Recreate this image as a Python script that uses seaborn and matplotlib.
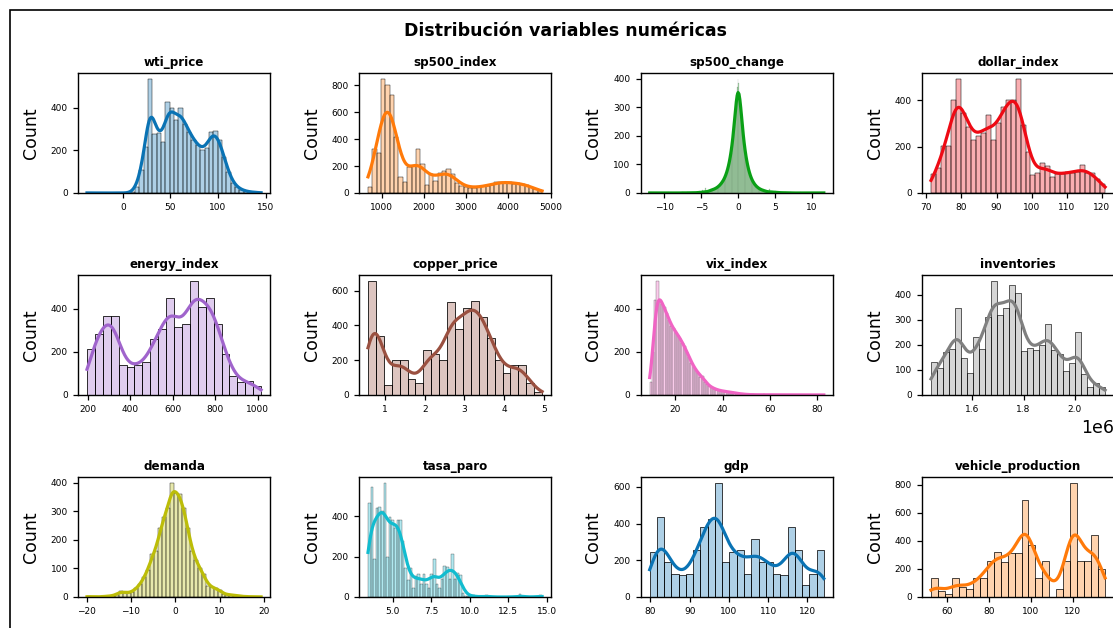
import numpy as np
import matplotlib
matplotlib.use("Agg")
import matplotlib.pyplot as plt
from matplotlib.ticker import MaxNLocator
from matplotlib.patches import Rectangle
from matplotlib.transforms import IdentityTransform
import seaborn as sns

# ---------------- data (histogram counts) ----------------
titles = ["wti_price", "sp500_index", "sp500_change", "dollar_index",
          "energy_index", "copper_price", "vix_index", "inventories",
          "demanda", "tasa_paro", "gdp", "vehicle_production"]

colors = ["#0a73b4", "#ff7a0a", "#0aa016", "#ee0a14",
          "#a064cc", "#9a5040", "#f064c4", "#808080",
          "#bcbd08", "#12bccf", "#0a73b4", "#ff7a0a"]

wti_price_range = (-37.63, 145.31)
wti_price_counts = [1, 0, 0, 0, 0, 0, 0, 0, 0, 0,
                    3, 30, 110, 215, 535, 278, 279, 239, 427, 396,
                    340, 396, 325, 286, 250, 223, 200, 210, 286, 290,
                    246, 168, 97, 45, 27, 15, 8, 5, 3, 2]

sp500_index_range = (676.5, 4796.6)
sp500_index_counts = [42, 330, 300, 850, 800, 730, 420, 117, 80, 192,
                      202, 325, 212, 62, 142, 92, 147, 160, 175, 142,
                      72, 55, 42, 40, 38, 45, 50, 55, 60, 80,
                      85, 78, 82, 70, 75, 70, 60, 45, 30, 20]

sp500_change_range = (-11.98, 11.58)
sp500_change_bins = 200
sp500_change_first_bin = 67
sp500_change_counts = [8, 8, 9, 10, 11, 12, 12, 14, 16, 17, 19, 21, 24, 27, 30, 34, 38,
                       42, 48, 55, 62, 70, 80, 92, 105, 120, 140, 160, 185, 215, 250,
                       290, 330, 370, 400, 385, 345, 305, 265, 225, 195, 168, 145, 125,
                       108, 94, 80, 70, 60, 52, 45, 39, 34, 30, 26, 23, 20, 18, 16, 14,
                       12, 11, 10, 9, 8, 7, 7, 6]
sp500_change_tail_x = [-11.9, -9.5, -9.0, -7.6, -6.9, -6.1, -5.6, -5.2, -4.8, -4.4,
                       4.2, 4.6, 5.0, 5.4, 5.9, 6.4, 7.0, 8.5, 9.4, 11.5]
sp500_change_tail_n = [1, 2, 1, 2, 2, 3, 4, 6, 10, 16,
                       14, 10, 7, 5, 4, 3, 2, 2, 1, 1]

dollar_index_range = (71.3, 121.0)
dollar_index_counts = [83, 108, 201, 204, 400, 490, 345, 282, 230, 245,
                       260, 335, 227, 300, 370, 400, 400, 492, 292, 177,
                       76, 86, 127, 115, 69, 83, 83, 91, 86, 91,
                       119, 86, 86, 60, 37]

energy_index_range = (197.0, 1015.0)
energy_index_counts = [215, 285, 366, 366, 141, 131, 140, 151, 262, 305,
                       449, 315, 328, 530, 410, 449, 331, 190, 90, 60, 65, 40]

copper_price_range = (0.57, 4.96)
copper_price_counts = [657, 339, 58, 200, 200, 91, 67, 257, 237, 200,
                       533, 381, 501, 539, 451, 330, 204, 128, 171, 171, 67, 19]

vix_index_range = (9.14, 82.69)
vix_index_bins = 77
vix_index_counts = [60, 200, 440, 530, 440, 420, 410, 380, 350, 320,
                    310, 290, 280, 265, 240, 225, 200, 175, 150, 130,
                    115, 100, 85, 90, 60, 50, 40, 35, 30, 25,
                    22, 20, 18, 16, 15, 14, 12, 10, 8, 6, 5, 4, 3]
vix_index_tail_x = [51, 53, 55, 57, 59, 61, 63, 66, 69, 72, 75, 80, 82.6]
vix_index_tail_n = [3, 3, 2, 3, 2, 2, 2, 2, 1, 1, 1, 2, 1]

inventories_range = (1.439e6, 2.118e6)
inventories_counts = [132, 108, 172, 183, 347, 148, 89, 231, 183, 311,
                      456, 320, 347, 437, 407, 176, 188, 181, 201, 282,
                      179, 165, 97, 126, 251, 82, 30, 49, 33]

demanda_range = (-19.9, 19.3)
demanda_counts = [2, 1, 0, 1, 2, 3, 4, 8, 22, 15, 14, 18, 30, 45, 70,
                  95, 150, 160, 240, 280, 310, 400, 365, 360, 310, 240, 160, 130,
                  100, 80, 40, 35, 30, 25, 10, 8, 8, 5, 3, 2, 1, 1, 1, 1]

tasa_paro_range = (3.4, 14.7)
tasa_paro_bins = 67
tasa_paro_counts = [465, 548, 190, 440, 448, 428, 567, 198, 398, 382,
                    340, 383, 383, 278, 145, 82, 145, 45, 103, 112,
                    65, 112, 65, 45, 112, 190, 65, 45, 87, 153,
                    148, 87, 215, 87, 120, 107, 20, 7, 5, 3, 8, 2]
tasa_paro_tail_x = [11.1, 13.3, 14.6]
tasa_paro_tail_n = [12, 15, 12]

gdp_range = (79.8, 124.2)
gdp_counts = [245, 436, 191, 127, 122, 127, 255, 382, 427, 622,
              191, 245, 255, 127, 313, 191, 191, 127, 122, 382,
              255, 64, 127, 255]

vehicle_production_range = (52.3, 135.5)
vehicle_production_counts = [132, 40, 20, 132, 72, 60, 132, 132, 256, 319,
                             247, 316, 311, 690, 371, 132, 256, 0, 60, 256,
                             814, 256, 256, 443, 196]

specs = {
    "wti_price": dict(rng=wti_price_range, counts=wti_price_counts),
    "sp500_index": dict(rng=sp500_index_range, counts=sp500_index_counts),
    "sp500_change": dict(rng=sp500_change_range, counts=sp500_change_counts,
                         nbins=sp500_change_bins, first=sp500_change_first_bin,
                         tail_x=sp500_change_tail_x, tail_n=sp500_change_tail_n),
    "dollar_index": dict(rng=dollar_index_range, counts=dollar_index_counts),
    "energy_index": dict(rng=energy_index_range, counts=energy_index_counts),
    "copper_price": dict(rng=copper_price_range, counts=copper_price_counts),
    "vix_index": dict(rng=vix_index_range, counts=vix_index_counts,
                      nbins=vix_index_bins, tail_x=vix_index_tail_x,
                      tail_n=vix_index_tail_n),
    "inventories": dict(rng=inventories_range, counts=inventories_counts),
    "demanda": dict(rng=demanda_range, counts=demanda_counts),
    "tasa_paro": dict(rng=tasa_paro_range, counts=tasa_paro_counts,
                      nbins=tasa_paro_bins, tail_x=tasa_paro_tail_x,
                      tail_n=tasa_paro_tail_n),
    "gdp": dict(rng=gdp_range, counts=gdp_counts),
    "vehicle_production": dict(rng=vehicle_production_range,
                               counts=vehicle_production_counts),
}


def expand(rng, counts, nbins=None, first=0, tail_x=(), tail_n=()):
    nbins = len(counts) if nbins is None else nbins
    edges = np.linspace(rng[0], rng[1], nbins + 1)
    centers = (edges[:-1] + edges[1:]) / 2
    x = np.concatenate([centers[first:first + len(counts)],
                        np.asarray(tail_x, float), np.asarray(rng, float)])
    w = np.concatenate([np.asarray(counts, float),
                        np.asarray(tail_n, float), [0.0, 0.0]])
    return list(edges), x, w


# ---------------- figure ----------------
W, H = 1113, 628
fig = plt.figure(figsize=(W / 100, H / 100), dpi=100)
fig.patch.set_facecolor("white")

fig.add_artist(Rectangle((10, -60), 3000, H - 10 + 60, transform=IdentityTransform(),
                         fill=False, edgecolor="black", linewidth=1.2))

fig.text(566 / W, 1 - 31 / H, "Distribución variables numéricas",
         ha="center", va="center", fontsize=12.5, fontweight="bold")

lefts = [78.3, 359.3, 641, 922.3]
tops = [73, 275, 477]
aw, ah = 191.5, 120

for i, name in enumerate(titles):
    r, c = divmod(i, 4)
    ax = fig.add_axes([lefts[c] / W, 1 - (tops[r] + ah) / H, aw / W, ah / H])
    edges, x, w = expand(**specs[name])
    # bandwidth as for the full sample (weights represent individual observations)
    n_obs = w.sum()
    n_eff = n_obs ** 2 / (w ** 2).sum()
    bw_adj = (n_eff / n_obs) ** 0.2
    sns.histplot(x=x, weights=w, bins=edges, kde=True, color=colors[i],
                 alpha=0.33, line_kws={"linewidth": 2.3},
                 kde_kws={"bw_adjust": bw_adj}, ax=ax)
    ax.set_title(name, fontsize=8.6, fontweight="bold", pad=5)
    ax.set_ylabel("Count", fontsize=12.5, labelpad=8)
    ax.set_xlabel("")
    ax.tick_params(labelsize=6.5, length=3.5, width=0.9, pad=4)
    ax.xaxis.set_major_locator(MaxNLocator(nbins=6, steps=[1, 2, 2.5, 5, 10]))
    ax.yaxis.set_major_locator(MaxNLocator(nbins=5, steps=[1, 2, 2.5, 5, 10]))
    ax.xaxis.get_offset_text().set_fontsize(12.5)
    for s in ax.spines.values():
        s.set_linewidth(1.0)

fig.savefig("out.png", dpi=100, facecolor="white")
